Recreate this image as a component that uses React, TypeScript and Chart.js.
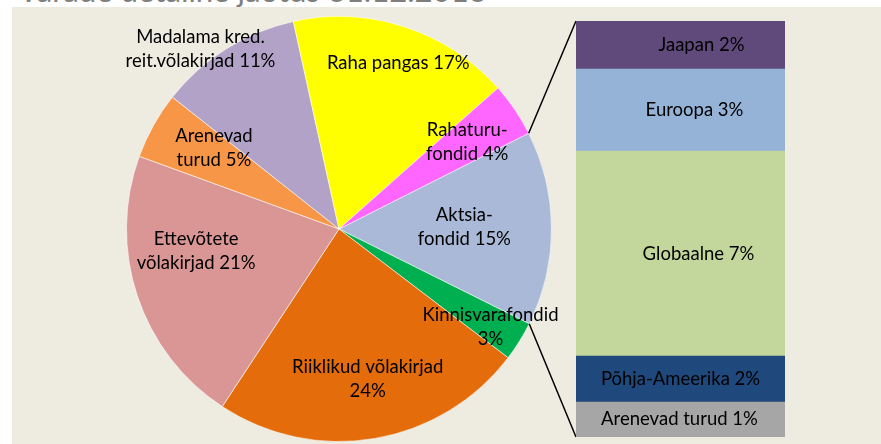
import React, { useEffect, useRef } from "react";
import { Chart, registerables } from "chart.js";
Chart.register(...registerables);

const titleText = "Varade detailne jaotus 31.12.2013";

const pieCategories = [
  "Aktsiafondid",
  "Kinnisvarafondid",
  "Riiklikud võlakirjad",
  "Ettevõtete võlakirjad",
  "Arenevad turud",
  "Madalama kred. reit.võlakirjad",
  "Raha pangas",
  "Rahaturufondid",
];
const pieValues = [14.8, 3.0, 23.9, 21.3, 5.1, 10.9, 16.9, 4.1];
const pieLabelLines = [
  ["Aktsia-", "fondid 15%"],
  ["Kinnisvarafondid", "3%"],
  ["Riiklikud võlakirjad", "24%"],
  ["Ettevõtete", "võlakirjad 21%"],
  ["Arenevad", "turud 5%"],
  ["Madalama kred.", "reit.võlakirjad 11%"],
  ["Raha pangas 17%"],
  ["Rahaturu-", "fondid 4%"],
];
const pieColors = ["#AAB9D7", "#00B050", "#E46C0A", "#D99694", "#F79646", "#B3A2C7", "#FFFF00", "#FF66FF"];
const pieLabelRadius = [0.59, 0.85, 0.72, 0.68, 0.7, 1.07, 0.83, 0.73];
const pieLabelAngleShift = [-0.65, 1.1, -1.1, 9.7, 3.6, -5.5, 1.6, -0.1];

const barCategories = ["Jaapan", "Euroopa", "Globaalne", "Põhja-Ameerika", "Arenevad turud"];
const barValues = [1.73, 2.96, 7.39, 1.66, 1.26];
const barLabels = ["Jaapan 2%", "Euroopa 3%", "Globaalne 7%", "Põhja-Ameerika 2%", "Arenevad turud 1%"];
const barColors = ["#604A7B", "#95B3D7", "#C3D69B", "#1F497D", "#A6A6A6"];
const barLabelShift = [21, 14, 18, 0, -1];

const FONT = "18.5px Lato";
const LINE_H = 24;

export default function App() {
  const pieRef = useRef<HTMLCanvasElement>(null);
  const barRef = useRef<HTMLCanvasElement>(null);
  const titleRef = useRef<HTMLDivElement>(null);

  useEffect(() => {
    document.body.style.margin = "0";
    const t = titleRef.current;
    if (t) {
      const c = document.createElement("canvas").getContext("2d")!;
      c.font = "100px Lato";
      const m: any = c.measureText(titleText);
      const size = (100 * 469) / m.width;
      const A = ((m.fontBoundingBoxAscent ?? 98.7) * size) / 100;
      const D = ((m.fontBoundingBoxDescent ?? 21.3) * size) / 100;
      t.style.fontSize = size + "px";
      t.style.lineHeight = A + D + "px";
      t.style.top = 3 - A + "px";
    }

    const barTotal = barValues.reduce((a, b) => a + b, 0);
    const order = barValues.map((_, i) => barValues.length - 1 - i);
    const barChart = new Chart(barRef.current!, {
      type: "bar",
      data: {
        labels: [""],
        datasets: order.map((i) => ({
          label: barCategories[i],
          data: [barValues[i]],
          backgroundColor: barColors[i],
          borderWidth: 0,
          barPercentage: 1,
          categoryPercentage: 1,
        })),
      },
      options: {
        responsive: false,
        animation: false,
        layout: { padding: 0 },
        plugins: { legend: { display: false }, tooltip: { enabled: false } },
        scales: {
          x: { stacked: true, display: false },
          y: { stacked: true, display: false, min: 0, max: barTotal },
        },
      },
      plugins: [
        {
          id: "barLabels",
          afterDatasetsDraw(chart: any) {
            const ctx = chart.ctx;
            ctx.save();
            ctx.font = FONT;
            ctx.fillStyle = "#000";
            ctx.textAlign = "center";
            ctx.textBaseline = "middle";
            chart.data.datasets.forEach((_: any, di: number) => {
              const i = order[di];
              const el: any = chart.getDatasetMeta(di).data[0];
              ctx.fillText(barLabels[i], el.x + barLabelShift[i], (el.y + el.base) / 2);
            });
            ctx.restore();
          },
        },
      ],
    } as any);

    const pieChart = new Chart(pieRef.current!, {
      type: "pie",
      data: {
        labels: pieCategories,
        datasets: [
          {
            data: pieValues,
            backgroundColor: pieColors,
            borderColor: "rgba(255,255,255,0.55)",
            borderWidth: 1,
          },
        ],
      },
      options: {
        responsive: false,
        animation: false,
        rotation: 63.2,
        layout: { padding: { left: 126, top: 16, right: 329, bottom: 2 } },
        plugins: { legend: { display: false }, tooltip: { enabled: false } },
      },
      plugins: [
        {
          id: "pieExtras",
          afterDatasetsDraw(chart: any) {
            const ctx = chart.ctx;
            const arcs: any[] = chart.getDatasetMeta(0).data;
            ctx.save();
            ctx.font = FONT;
            ctx.fillStyle = "#000";
            ctx.textAlign = "center";
            ctx.textBaseline = "middle";
            arcs.forEach((a, i) => {
              const mid = (a.startAngle + a.endAngle) / 2 + (pieLabelAngleShift[i] * Math.PI) / 180;
              const r = a.outerRadius * pieLabelRadius[i];
              const cx = a.x + r * Math.cos(mid);
              const cy = a.y + r * Math.sin(mid);
              const lines = pieLabelLines[i];
              lines.forEach((ln, k) => ctx.fillText(ln, cx, cy + (k - (lines.length - 1) / 2) * LINE_H));
            });
            const n = barChart.data.datasets.length;
            const topEl: any = barChart.getDatasetMeta(n - 1).data[0];
            const botEl: any = barChart.getDatasetMeta(0).data[0];
            const bc = barRef.current!;
            const left = bc.offsetLeft + topEl.x - topEl.width / 2;
            const top = bc.offsetTop + topEl.y;
            const bottom = bc.offsetTop + botEl.base;
            const a0 = arcs[0];
            ctx.strokeStyle = "#000";
            ctx.lineWidth = 1.5;
            ctx.beginPath();
            ctx.moveTo(a0.x + a0.outerRadius * Math.cos(a0.startAngle), a0.y + a0.outerRadius * Math.sin(a0.startAngle));
            ctx.lineTo(left, top);
            ctx.moveTo(a0.x + a0.outerRadius * Math.cos(a0.endAngle), a0.y + a0.outerRadius * Math.sin(a0.endAngle));
            ctx.lineTo(left, bottom);
            ctx.stroke();
            ctx.restore();
          },
        },
      ],
    } as any);

    return () => {
      pieChart.destroy();
      barChart.destroy();
    };
  }, []);

  return (
    <div style={{ position: "relative", width: 881, height: 444, overflow: "hidden", background: "#fff" }}>
      <div
        ref={titleRef}
        style={{ position: "absolute", left: 18, top: -29, whiteSpace: "nowrap", fontFamily: "Lato", color: "#7F7F7F", fontSize: 33 }}
      >
        {titleText}
      </div>
      <div style={{ position: "absolute", left: 12, top: 7, width: 869, height: 437, background: "#EEECE1" }} />
      <canvas ref={pieRef} width={881} height={444} style={{ position: "absolute", left: 0, top: 0 }} />
      <canvas ref={barRef} width={209} height={416} style={{ position: "absolute", left: 576, top: 21 }} />
    </div>
  );
}
